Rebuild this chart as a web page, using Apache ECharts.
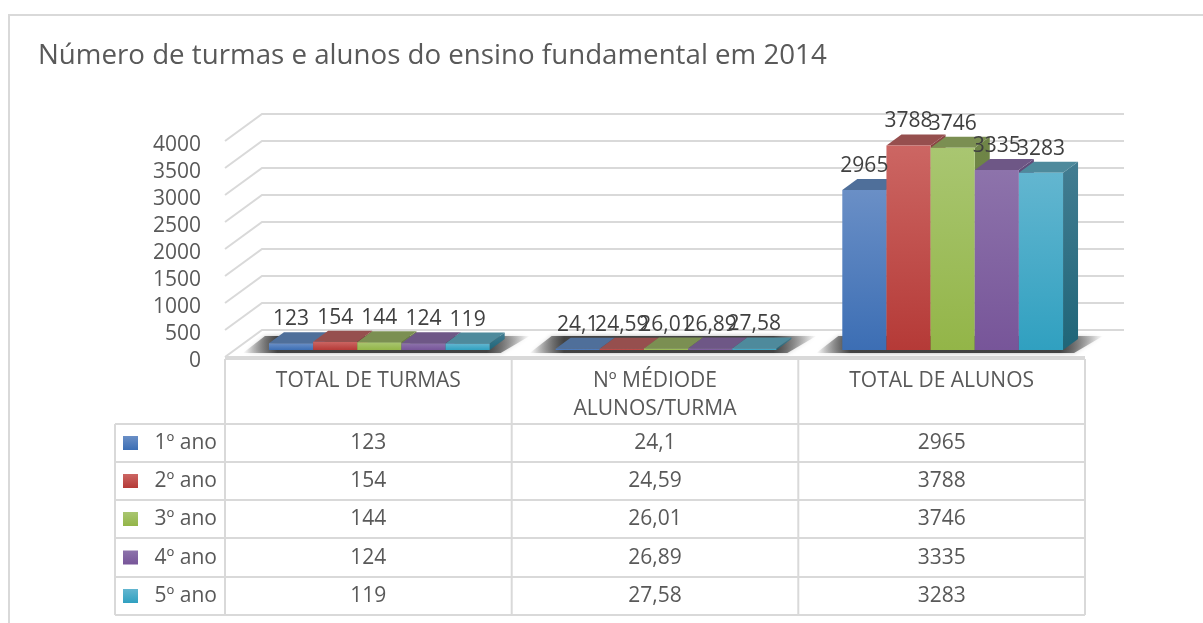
<!DOCTYPE html>
<html>
<head>
<meta charset="utf-8">
<style>html,body{margin:0;padding:0;background:#fff}#c{width:1203px;height:623px}</style>
<script src="https://cdn.jsdelivr.net/npm/echarts@6/dist/echarts.min.js"></script>
</head>
<body>
<div id="c"></div>
<script>
const titleText = 'Número de turmas e alunos do ensino fundamental em 2014';
const categories = ['TOTAL DE TURMAS', 'Nº MÉDIODE\nALUNOS/TURMA', 'TOTAL DE ALUNOS'];
const years = ['1º ano', '2º ano', '3º ano', '4º ano', '5º ano'];
const ano1 = [123, 24.1, 2965];
const ano2 = [154, 24.59, 3788];
const ano3 = [144, 26.01, 3746];
const ano4 = [124, 26.89, 3335];
const ano5 = [119, 27.58, 3283];
const yTicks = [0, 500, 1000, 1500, 2000, 2500, 3000, 3500, 4000];
const allValues = [ano1, ano2, ano3, ano4, ano5];

const FONT = '"Open Sans", sans-serif';
const GRID = '#d9d9d9';
const faces = [
  {top:'#4f6f9a', hi:'#6a8fc6', lo:'#3c6eb4', sTop:'#44648f', sLo:'#2f5585'},
  {top:'#964f4e', hi:'#cc6663', lo:'#b53a37', sTop:'#8a4544', sLo:'#802c2a'},
  {top:'#7b8f52', hi:'#a9c671', lo:'#93b548', sTop:'#6f8548', sLo:'#6a8334'},
  {top:'#6e5786', hi:'#8d73ab', lo:'#775599', sTop:'#624c7a', sLo:'#553d6e'},
  {top:'#4e8a9c', hi:'#63b6d0', lo:'#30a0c0', sTop:'#437d92', sLo:'#1f6578'}
];
const fmt = v => String(v).replace('.', ',');
const W_RATIO = 0.154, BAR_SHIFT = 11, BASE_UP = 7, DX = 15, DY = 11;

function barBox(api, cat, value, s) {
  const p = api.coord([cat, value]), b = api.coord([cat, 0]);
  const w = api.size([1, 0])[0] * W_RATIO;
  const x0 = p[0] + BAR_SHIFT + (s - 2.5) * w;
  return {x0, x1: x0 + w, yT: p[1] - BASE_UP, yB: b[1] - BASE_UP, w};
}

const series = [];
// back wall and floor lines
series.push({
  type: 'custom', coordinateSystem: 'cartesian2d', z: 1, silent: true,
  data: yTicks.map(v => [0, v]), encode: {x: 0, y: 1},
  renderItem(params, api) {
    const cs = params.coordSys, y = api.coord([0, api.value(1)])[1];
    const pts = [[cs.x, y], [cs.x + 37, y - 27], [cs.x + 899, y - 27]];
    const kids = [{type: 'polyline', shape: {points: pts}, style: {stroke: GRID, lineWidth: 2, fill: null}}];
    if (api.value(1) === 0) kids.push({type: 'line', shape: {x1: cs.x, y1: y, x2: cs.x + cs.width, y2: y}, style: {stroke: GRID, lineWidth: 2}});
    return {type: 'group', children: kids};
  }
});
// floor shadows
series.push({
  type: 'custom', coordinateSystem: 'cartesian2d', z: 2, silent: true,
  data: categories.map((c, i) => [i, 0]), encode: {x: 0, y: 1},
  renderItem(params, api) {
    const i = api.value(0);
    const a = barBox(api, i, 0, 0), b = barBox(api, i, 0, 4);
    const fill = new echarts.graphic.LinearGradient(0, 0, 1, 0, [
      {offset: 0, color: 'rgba(60,60,60,0)'}, {offset: 0.12, color: 'rgba(60,60,60,0.95)'},
      {offset: 0.85, color: 'rgba(60,60,60,0.95)'}, {offset: 1, color: 'rgba(60,60,60,0)'}]);
    return {type: 'polygon', shape: {points: [[a.x0 - 26, a.yB + 3], [b.x1 + 11, a.yB + 3], [b.x1 + 40, a.yB - 14], [a.x0 - 4, a.yB - 14]]},
      style: {fill, shadowBlur: 4, shadowColor: 'rgba(120,120,120,0.6)'}};
  }
});
// bars
years.forEach((name, s) => {
  const f = faces[s];
  series.push({
    type: 'custom', name, coordinateSystem: 'cartesian2d', z: 3 + s, silent: true,
    data: allValues[s].map((v, i) => [i, v]), encode: {x: 0, y: 1},
    renderItem(params, api) {
      const b = barBox(api, api.value(0), api.value(1), s);
      const g = (c0, c1) => new echarts.graphic.LinearGradient(0, 0, 0, 1, [{offset: 0, color: c0}, {offset: 1, color: c1}]);
      return {type: 'group', children: [
        {type: 'polygon', shape: {points: [[b.x1, b.yT], [b.x1 + DX, b.yT - DY], [b.x1 + DX, b.yB - DY], [b.x1, b.yB]]}, style: {fill: g(f.sTop, f.sLo)}},
        {type: 'polygon', shape: {points: [[b.x0, b.yT], [b.x0 + DX, b.yT - DY], [b.x1 + DX, b.yT - DY], [b.x1, b.yT]]}, style: {fill: f.top}},
        {type: 'rect', shape: {x: b.x0, y: b.yT, width: b.w, height: b.yB - b.yT}, style: {fill: g(f.hi, f.lo)}}
      ]};
    }
  });
});
// data labels, painted above every bar
years.forEach((name, s) => {
  series.push({
    type: 'custom', coordinateSystem: 'cartesian2d', z: 10, silent: true,
    data: allValues[s].map((v, i) => [i, v]), encode: {x: 0, y: 1},
    renderItem(params, api) {
      const b = barBox(api, api.value(0), api.value(1), s);
      return {type: 'text', style: {x: (b.x0 + b.x1) / 2, y: b.yT - 24, text: fmt(api.value(1)), align: 'center', verticalAlign: 'middle', fill: '#404040', font: '21px ' + FONT}};
    }
  });
});

// data table, title and chart frame
const colX = [225, 511.7, 798.3, 1085];
const rowY = [424, 462, 500, 538, 577, 615];
const tableLeft = 115, tableTop = 359;
const gr = [];
const seg = (x1, y1, x2, y2) => gr.push({type: 'line', shape: {x1, y1, x2, y2}, style: {stroke: GRID, lineWidth: 2}, z: 20});
const txt = (x, y, text, align, size, fill) => gr.push({type: 'text', z: 21, style: {x, y, text, align: align, verticalAlign: 'middle', fill: fill || '#595959', font: size + 'px ' + FONT}});

seg(8, 15, 1203, 15); seg(9, 15, 9, 623);
gr.push({type: 'text', z: 21, style: {x: 38, y: 56, text: titleText, align: 'left', verticalAlign: 'middle', fill: '#595959', font: '27.7px ' + FONT}});
colX.forEach(x => seg(x, tableTop, x, rowY[5]));
seg(tableLeft, rowY[0], tableLeft, rowY[5]);
seg(colX[0], tableTop, colX[3], tableTop);
rowY.forEach(y => seg(tableLeft, y, colX[3], y));
categories.forEach((c, i) => {
  const cx = (colX[i] + colX[i + 1]) / 2;
  c.split('\n').forEach((t, k) => txt(cx, 381 + k * 28, t, 'center', 21));
});
years.forEach((name, s) => {
  const cy = (rowY[s] + rowY[s + 1]) / 2 + 0.5;
  gr.push({type: 'rect', z: 21, shape: {x: 123, y: cy - 7.5, width: 15, height: 14},
    style: {fill: new echarts.graphic.LinearGradient(0, 0, 0, 1, [{offset: 0, color: faces[s].hi}, {offset: 1, color: faces[s].lo}])}});
  txt(217, cy, name, 'right', 21);
  allValues[s].forEach((v, i) => txt((colX[i] + colX[i + 1]) / 2, cy, fmt(v), 'center', 21));
});

const chart = echarts.init(document.getElementById('c'), null, {renderer: 'canvas'});
chart.setOption({
  animation: false,
  backgroundColor: '#ffffff',
  grid: {left: 225, top: 141, width: 860, height: 216, containLabel: false},
  xAxis: {type: 'category', data: categories.map(c => c.replace('\n', ' ')), axisLine: {show: false}, axisTick: {show: false}, axisLabel: {show: false}},
  yAxis: {type: 'value', min: 0, max: 4000, interval: 500, axisLine: {show: false}, axisTick: {show: false}, splitLine: {show: false},
    axisLabel: {margin: 24, color: '#595959', fontFamily: FONT, fontSize: 21, verticalAlign: 'top', lineHeight: 8, formatter: v => String(v), showMinLabel: true, showMaxLabel: true}},
  series,
  graphic: {elements: gr}
});
</script>
</body>
</html>
